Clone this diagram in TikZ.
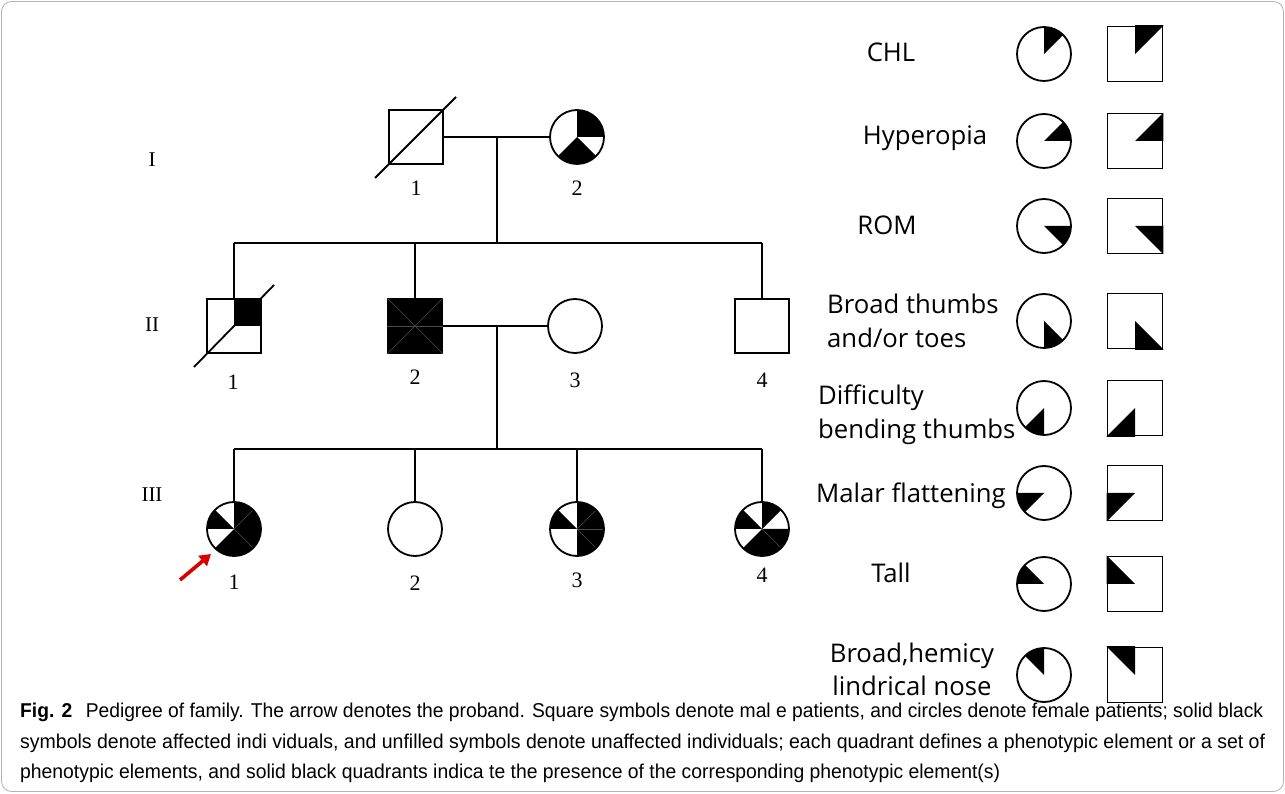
\documentclass[tikz,border=0pt]{standalone}
\usepackage{fontspec}
\setmainfont{Liberation Serif}
\newfontfamily\legfont{Open Sans}
\newfontfamily\capfont{Liberation Sans}
\usetikzlibrary{arrows.meta}
\newcommand{\cw}[3]{\fill (#1.center) -- +(#2:27pt) arc[start angle=#2, end angle=#3, radius=27pt] -- cycle;}
\newcommand{\sw}[3]{\begin{scope}\clip (#1.south west) rectangle (#1.north east); \fill (#1.center) -- +(#2:90pt) -- +(#3:90pt) -- cycle;\end{scope}}
\begin{document}
\begin{tikzpicture}[x=1pt,y=1pt,
  sym/.style={draw, line width=1.8pt, inner sep=0pt, minimum size=54pt},
  male/.style={sym, rectangle},
  female/.style={sym, circle},
  lsq/.style={sym, rectangle, minimum size=55pt},
  lci/.style={sym, circle, minimum size=54pt},
  line/.style={line width=1.8pt},
  faint/.style={gray!60!black, line width=0.6pt},
  num/.style={font=\fontsize{22}{22}\selectfont, inner sep=0pt},
  gen/.style={font=\fontsize{21}{21}\selectfont, inner sep=0pt},
  leg/.style={font=\legfont\fontsize{25.7}{34}\selectfont, inner sep=0pt},
  proband/.style={draw=red!85!black, line width=3.6pt, -{Triangle[length=11pt,width=13pt]}},
]
\useasboundingbox (0,0) rectangle (1285,793);
\draw[gray!60, line width=0.8pt, rounded corners=10pt] (1.5,1.5) rectangle (1283.5,791.5);

% generation labels
\node[gen] (gI) at (152,633) {I};
\node[gen] (gII) at (152,468) {II};
\node[gen] (gIII) at (152,298) {III};

% generation I
\node[male] (I1) at (416,656) {};
\node[female] (I2) at (577,656) {};
\cw{I2}{0}{90}
\cw{I2}{-135}{-45}
\draw[line] (I1.center) ++(-41,-41) -- ++(81,81);
\node[num] (nI1) at (416,605) {1};
\node[num] (nI2) at (577,605) {2};

% generation II
\node[male] (II1) at (234,467) {};
\fill (II1.center) rectangle (II1.north east);
\draw[line] (II1.center) ++(-40,-41) -- ++(80,82);
\node[male, fill=black] (II2) at (415,467) {};
\draw[faint] (II2.south west) -- (II2.north east);
\draw[faint] (II2.north west) -- (II2.south east);
\draw[faint] (II2.west) -- (II2.east);
\node[female] (II3) at (575,467) {};
\node[male] (II4) at (762,467) {};
\node[num] (nII1) at (233,411) {1};
\node[num] (nII2) at (415,416) {2};
\node[num] (nII3) at (575,413) {3};
\node[num] (nII4) at (762,413) {4};

% generation III
\node[female] (III1) at (234,264) {};
\cw{III1}{135}{180}
\cw{III1}{-135}{90}
\draw[faint] (III1.center) -- +(45:26pt);
\draw[faint] (III1.center) -- +(-45:26pt);
\node[female] (III2) at (415,264) {};
\node[female] (III3) at (577,264) {};
\cw{III3}{135}{180}
\cw{III3}{-90}{90}
\draw[faint] (III3.center) -- +(45:26pt);
\draw[faint] (III3.center) -- +(0:26pt);
\draw[faint] (III3.center) -- +(-45:26pt);
\node[female] (III4) at (762,264) {};
\cw{III4}{45}{90}
\cw{III4}{135}{180}
\cw{III4}{-135}{0}
\draw[faint] (III4.center) -- +(-45:26pt);
\node[num] (nIII1) at (234,211) {1};
\node[num] (nIII2) at (415,210) {2};
\node[num] (nIII3) at (577,213) {3};
\node[num] (nIII4) at (762,218) {4};

% connectors
\draw[line] (I1.east) -- (I2.west);
\coordinate (m1) at (497,656);
\coordinate (s2) at (497,550);
\draw[line] (m1) -- (s2);
\draw[line] (II1.north |- s2) -- (II4.north |- s2);
\draw[line] (II1.north |- s2) -- (II1.north);
\draw[line] (II2.north |- s2) -- (II2.north);
\draw[line] (II4.north |- s2) -- (II4.north);
\draw[line] (II2.east) -- (II3.west);
\coordinate (m2) at (497,467);
\coordinate (s3) at (497,344);
\draw[line] (m2) -- (s3);
\draw[line] (III1.north |- s3) -- (III4.north |- s3);
\draw[line] (III1.north |- s3) -- (III1.north);
\draw[line] (III2.north |- s3) -- (III2.north);
\draw[line] (III3.north |- s3) -- (III3.north);
\draw[line] (III4.north |- s3) -- (III4.north);

% proband arrow
\coordinate (atail) at (180,213);
\coordinate (ahead) at (211,239);
\draw[proband] (atail) -- (ahead);

% legend
\node[leg] (t1) at (891,741) {CHL};
\node[lci] (Lc1) at (1044,739) {}; \cw{Lc1}{45}{90}
\node[lsq] (Ls1) at (1135,739) {}; \sw{Ls1}{45}{90}

\node[leg] (t2) at (925,655) {Hyperopia};
\node[lci] (Lc2) at (1044,652) {}; \cw{Lc2}{0}{45}
\node[lsq] (Ls2) at (1135,652) {}; \sw{Ls2}{0}{45}

\node[leg] (t3) at (887,568) {ROM};
\node[lci] (Lc3) at (1044,567) {}; \cw{Lc3}{-45}{0}
\node[lsq] (Ls3) at (1135,567) {}; \sw{Ls3}{-45}{0}

\node[leg, anchor=west, align=left] (t4) at (827,472) {Broad thumbs\\and/or toes};
\node[lci] (Lc4) at (1044,472) {}; \cw{Lc4}{-90}{-45}
\node[lsq] (Ls4) at (1135,472) {}; \sw{Ls4}{-90}{-45}

\node[leg, anchor=west, align=left] (t5) at (818,378) {Difficulty\\bending thumbs};
\node[lci] (Lc5) at (1044,385) {}; \cw{Lc5}{-135}{-90}
\node[lsq] (Ls5) at (1135,385) {}; \sw{Ls5}{-135}{-90}

\node[leg] (t6) at (911,297) {Malar flattening};
\node[lci] (Lc6) at (1044,300) {}; \cw{Lc6}{180}{225}
\node[lsq] (Ls6) at (1135,300) {}; \sw{Ls6}{180}{225}

\node[leg] (t7) at (891,220) {Tall};
\node[lci] (Lc7) at (1044,209) {}; \cw{Lc7}{135}{180}
\node[lsq] (Ls7) at (1135,209) {}; \sw{Ls7}{135}{180}

\node[leg, align=center, font=\legfont\fontsize{25.7}{33}\selectfont] (t8) at (912,124) {Broad,hemicy\\lindrical nose};
\node[lci] (Lc8) at (1044,118) {}; \cw{Lc8}{90}{135}
\node[lsq] (Ls8) at (1135,118) {}; \sw{Ls8}{90}{135}

% caption
\node[anchor=base west, inner sep=0pt] (cap1) at (20,76) {\capfont\fontsize{20}{24}\selectfont\resizebox{1243pt}{\height}{\textbf{Fig. 2}\hspace{0.7em}Pedigree of family. The arrow denotes the proband. Square symbols denote mal e patients, and circles denote female patients; solid black}};
\node[anchor=base west, inner sep=0pt] (cap2) at (20,45) {\capfont\fontsize{20}{24}\selectfont\resizebox{1245pt}{\height}{symbols denote affected indi viduals, and unfilled symbols denote unaffected individuals; each quadrant defines a phenotypic element or a set of}};
\node[anchor=base west, inner sep=0pt] (cap3) at (20,15) {\capfont\fontsize{20}{24}\selectfont\resizebox{980pt}{\height}{phenotypic elements, and solid black quadrants indica te the presence of the corresponding phenotypic element(s)}};
\end{tikzpicture}
\end{document}
